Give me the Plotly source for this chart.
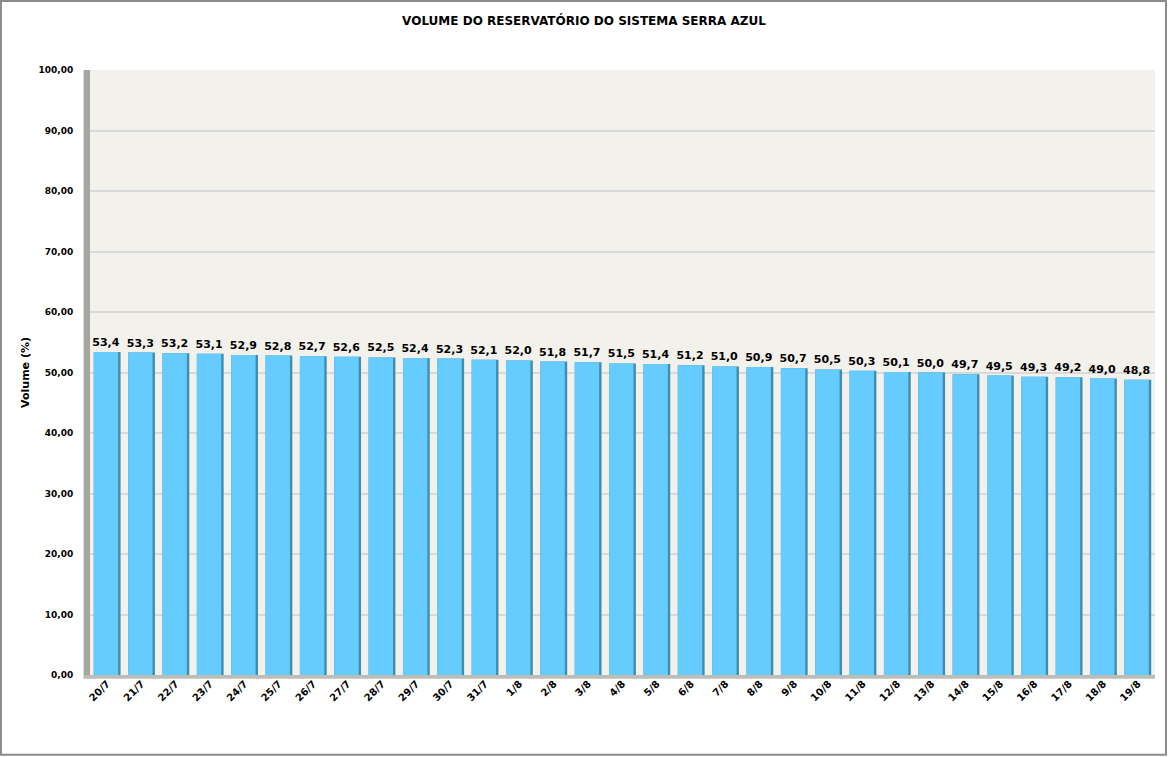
import plotly.graph_objects as go

# Dates and reservoir volume (%)
datas = ['20/7', '21/7', '22/7', '23/7', '24/7', '25/7', '26/7', '27/7', '28/7', '29/7',
         '30/7', '31/7', '1/8', '2/8', '3/8', '4/8', '5/8', '6/8', '7/8', '8/8',
         '9/8', '10/8', '11/8', '12/8', '13/8', '14/8', '15/8', '16/8', '17/8', '18/8', '19/8']
volume = [53.4, 53.3, 53.2, 53.1, 52.9, 52.8, 52.7, 52.6, 52.5, 52.4,
          52.3, 52.1, 52.0, 51.8, 51.7, 51.5, 51.4, 51.2, 51.0, 50.9,
          50.7, 50.5, 50.3, 50.1, 50.0, 49.7, 49.5, 49.3, 49.2, 49.0, 48.8]
y_ticks = [0, 10, 20, 30, 40, 50, 60, 70, 80, 90, 100]

font_family = 'DejaVu Sans, Verdana, sans-serif'

fig = go.Figure()
# darker side of each bar (fake 3D edge)
fig.add_trace(go.Bar(
    x=datas, y=volume, width=0.78, offset=-0.39,
    marker=dict(color='#3E8DB3', line=dict(width=0)),
    hoverinfo='skip',
))
fig.add_trace(go.Bar(
    x=datas, y=volume, width=0.71, offset=-0.39,
    marker=dict(color='#66CCFF', line=dict(width=0)),
    texttemplate='%{y:.1f}', textposition='outside', constraintext='none',
    textfont=dict(family=font_family, size=11, color='black', weight='bold'),
    cliponaxis=False,
))

# Left side wall and floor of the 3D-style plot area
fig.add_shape(type='rect', xref='paper', yref='paper', x0=-0.006, x1=0, y0=-0.005, y1=1.0,
              fillcolor='#A6A6A0', line=dict(width=0), layer='below')
fig.add_shape(type='rect', xref='paper', yref='paper', x0=-0.006, x1=1, y0=-0.006, y1=0,
              fillcolor='#BDBDB8', line=dict(width=0), layer='below')
# Outer border of the chart
fig.add_shape(type='rect', xref='paper', yref='paper', x0=-0.0836, x1=1.0103, y0=-0.132, y1=1.114,
              line=dict(color='#8C8C8C', width=2))

fig.update_layout(
    width=1168, height=757,
    margin=dict(l=90, r=13, t=70, b=82),
    paper_bgcolor='white', plot_bgcolor='#F2F1EC',
    separators=',.',
    showlegend=False,
    barmode='overlay',
    title=dict(text='<b>VOLUME DO RESERVATÓRIO DO SISTEMA SERRA AZUL</b>',
               x=0.5, xanchor='center', y=0.973, yanchor='middle',
               font=dict(family=font_family, size=12, color='black')),
    font=dict(family=font_family, color='black'),
)
fig.update_xaxes(
    tickangle=-45, tickfont=dict(size=10, family=font_family, weight='bold'),
    ticks='', showline=False, showgrid=False,
)
fig.update_yaxes(
    range=[0, 100], tickvals=y_ticks, tickformat='.2f',
    tickfont=dict(size=9, family=font_family, weight='bold'),
    showgrid=True, gridcolor='#D9D9D9', gridwidth=1.5, zeroline=False,
    ticks='outside', ticklen=14, tickcolor='rgba(0,0,0,0)',
    title=dict(text='<b>Volume (%)</b>', font=dict(size=11, family=font_family), standoff=6),
)

# page body has a default 8px margin; drop it so the figure fills the window
fig.write_html('out.html', config={'displayModeBar': False},
               post_script="document.body.style.margin='0';")
